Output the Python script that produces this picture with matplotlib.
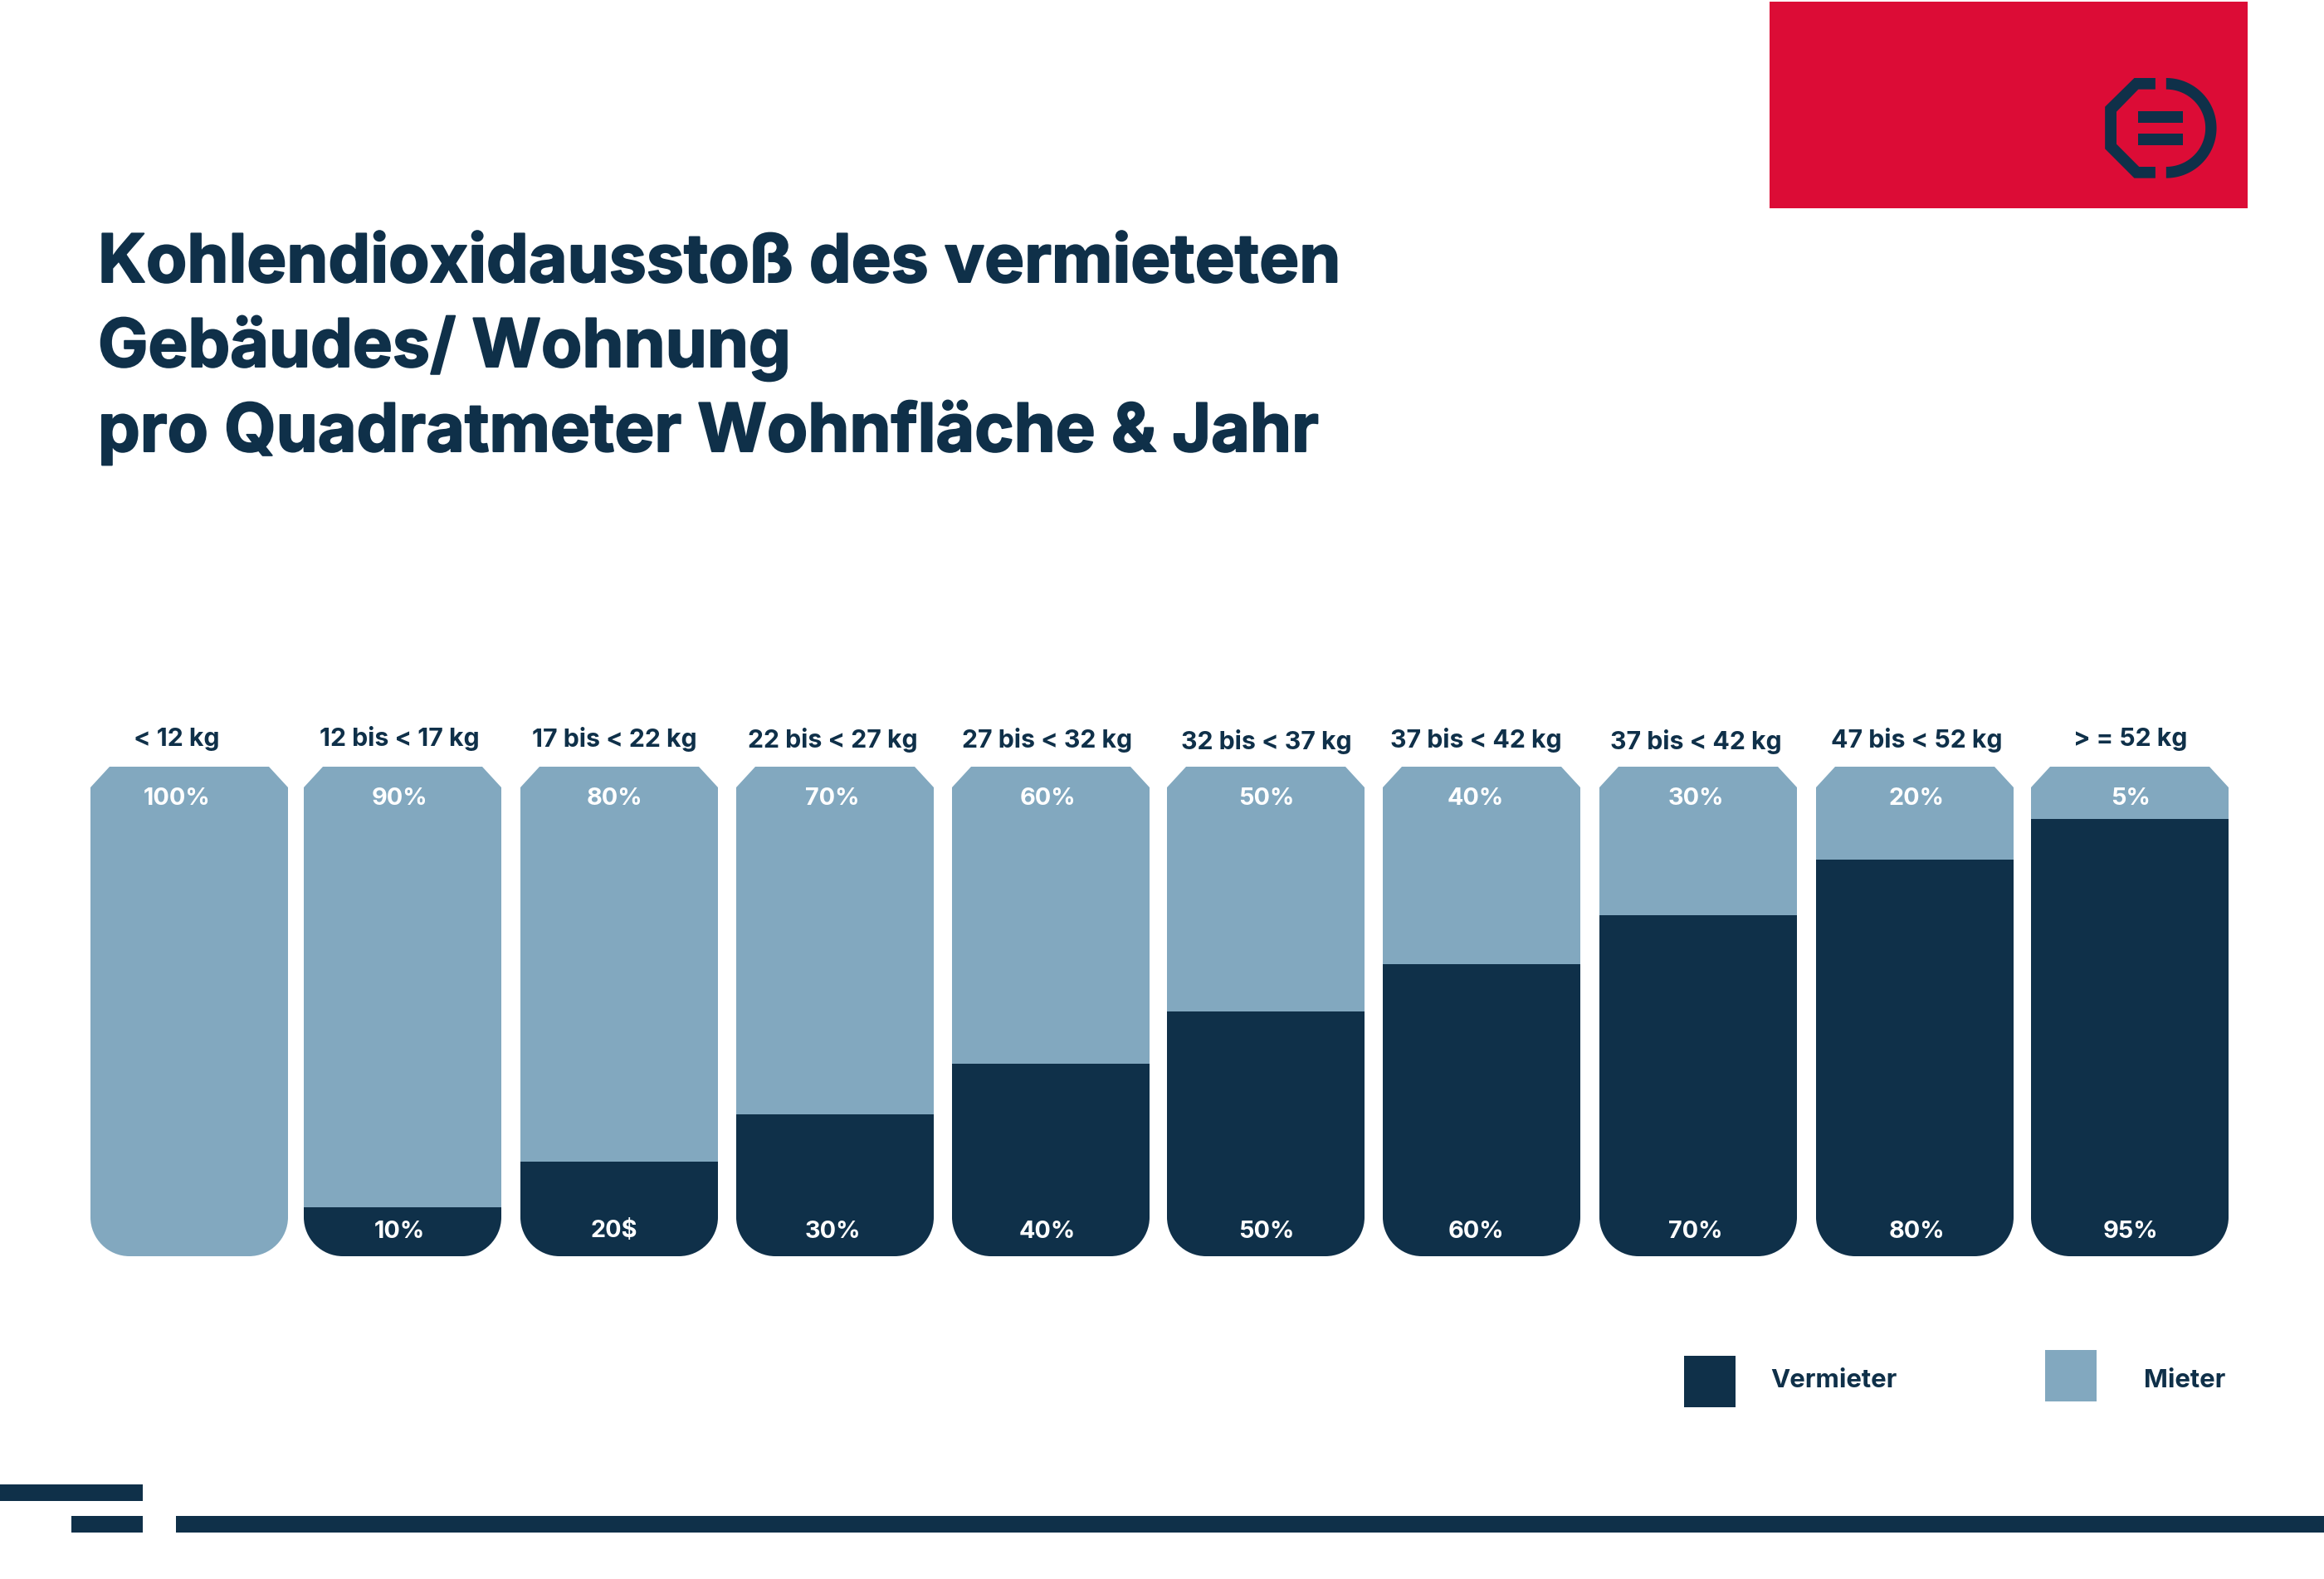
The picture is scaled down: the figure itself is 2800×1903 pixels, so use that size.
import numpy as np
import matplotlib.pyplot as plt
import matplotlib.patheffects as pe
from matplotlib.patches import Rectangle, Polygon
from matplotlib.path import Path

NAVY = "#0F3049"
LIGHT = "#82A8BF"
RED = "#DC0C36"
FONT = "Inter"

# ---- data
categories = ["< 12 kg", "12 bis < 17 kg", "17 bis < 22 kg", "22 bis < 27 kg", "27 bis < 32 kg",
              "32 bis < 37 kg", "37 bis < 42 kg", "37 bis < 42 kg", "47 bis < 52 kg", "> = 52 kg"]
vermieter = [0, 10, 19.4, 29, 39.4, 50, 59.7, 69.7, 81, 89.4]
mieter = [100, 90, 80.6, 71, 60.6, 50, 40.3, 30.3, 19, 10.6]
mieter_labels = ["100%", "90%", "80%", "70%", "60%", "50%", "40%", "30%", "20%", "5%"]
vermieter_labels = ["", "10%", "20$", "30%", "40%", "50%", "60%", "70%", "80%", "95%"]

title_lines = ["Kohlendioxidausstoß des vermieteten", "Gebäudes/ Wohnung",
               "pro Quadratmeter Wohnfläche & Jahr"]

# bars sit slightly unevenly in the original, label centres are hand placed too
bar_centers = [228, 485, 746, 1006, 1266, 1525, 1785, 2046, 2307, 2566]
label_x = [213, 481, 740, 1003, 1262, 1526, 1778, 2043, 2309, 2567]
label_y = [891, 890, 891, 892, 892, 894, 892, 894, 892, 891]
BAR_W = 238

fig = plt.figure(figsize=(14, 9.515), dpi=200, facecolor="white")

# page layer in pixel coordinates
page = fig.add_axes([0, 0, 1, 1])
page.set_xlim(0, 2800)
page.set_ylim(1903, 0)
page.axis("off")

# ---- red header block with logo
page.add_patch(Rectangle((2132, 2), 576, 249, fc=RED, ec="none"))


def logo_xy(pts):
    pts = np.array(pts, dtype=float)
    return np.column_stack([2100 + pts[:, 0] / 2.24, pts[:, 1] / 3])


left_half = [(1113, 282), (1056, 282), (977, 386), (977, 538), (1056, 644), (1113, 644),
             (1113, 603), (1069, 603), (1008, 521), (1008, 404), (1067, 323), (1113, 323)]
page.add_patch(Polygon(logo_xy(left_half), fc=NAVY, ec="none"))

t = np.linspace(-np.pi / 2, np.pi / 2, 80)
outer = np.column_stack([1142 + 136 * np.cos(t), 463 + 181 * np.sin(t)])
inner = np.column_stack([1142 + 106 * np.cos(t), 463 + 140 * np.sin(t)])[::-1]
page.add_patch(Polygon(logo_xy(np.vstack([outer, inner])), fc=NAVY, ec="none"))

for y0, y1 in [(402, 443), (482, 524)]:
    page.add_patch(Polygon(logo_xy([(1066, y0), (1187, y0), (1187, y1), (1066, y1)]), fc=NAVY, ec="none"))

# ---- title, Inter bold is a bit light so thicken it
for line, y in zip(title_lines, [319, 420, 522]):
    page.text(118, y, line, fontsize=29, fontweight="bold", family=FONT, color=NAVY,
              ha="left", va="center",
              path_effects=[pe.withStroke(linewidth=0.7, foreground=NAVY)])

# ---- stacked bars
TOP, BOTTOM = 924, 1514
ax = fig.add_axes([109 / 2800, 1 - BOTTOM / 1903, (2685 - 109) / 2800, (BOTTOM - TOP) / 1903])
ax.set_xlim(109, 2685)
ax.set_ylim(0, 100)
ax.axis("off")
ax.patch.set_alpha(0)

dark = ax.bar(bar_centers, vermieter, width=BAR_W, color=NAVY, linewidth=0)
pale = ax.bar(bar_centers, mieter, width=BAR_W, bottom=vermieter, color=LIGHT, linewidth=0)

# bars have chamfered tops and rounded bottoms
unit_y = 100 / (BOTTOM - TOP)


def bar_outline(cx):
    l, r = cx - BAR_W / 2, cx + BAR_W / 2
    cut_x, cut_y = 23, 25 * unit_y
    rad_x, rad_y = 47, 47 * unit_y
    k = 0.55
    verts = [(l + cut_x, 100), (r - cut_x, 100), (r, 100 - cut_y), (r, rad_y),
             (r, rad_y * (1 - k)), (r - rad_x * (1 - k), 0), (r - rad_x, 0),
             (l + rad_x, 0), (l + rad_x * (1 - k), 0), (l, rad_y * (1 - k)), (l, rad_y),
             (l, 100 - cut_y), (l + cut_x, 100)]
    codes = [Path.MOVETO, Path.LINETO, Path.LINETO, Path.LINETO,
             Path.CURVE4, Path.CURVE4, Path.CURVE4,
             Path.LINETO, Path.CURVE4, Path.CURVE4, Path.CURVE4,
             Path.LINETO, Path.CLOSEPOLY]
    return Path(verts, codes)


for cx, d, p in zip(bar_centers, dark, pale):
    outline = bar_outline(cx)
    d.set_clip_path(outline, ax.transData)
    p.set_clip_path(outline, ax.transData)

# ---- labels
for i, cat in enumerate(categories):
    page.text(label_x[i], label_y[i], cat, fontsize=10.9, fontweight="bold", family=FONT,
              color=NAVY, ha="center", va="center")
    page.text(label_x[i], 962, mieter_labels[i], fontsize=10.4, fontweight="bold", family=FONT,
              color="white", ha="center", va="center", zorder=5)
    if vermieter_labels[i]:
        page.text(label_x[i], 1484, vermieter_labels[i], fontsize=10.4, fontweight="bold", family=FONT,
                  color="white", ha="center", va="center", zorder=5)
page.set_zorder(3)
page.patch.set_alpha(0)

# ---- legend
page.add_patch(Rectangle((2029, 1634), 62, 62, fc=NAVY, ec="none"))
page.add_patch(Rectangle((2464, 1627), 62, 62, fc=LIGHT, ec="none"))
page.text(2133, 1664, "Vermieter", fontsize=11.2, fontweight="bold", family=FONT, color=NAVY,
          ha="left", va="center")
page.text(2583, 1664, "Mieter", fontsize=11.2, fontweight="bold", family=FONT, color=NAVY,
          ha="left", va="center")

# ---- footer rules
page.add_patch(Rectangle((0, 1789), 172, 20, fc=NAVY, ec="none"))
page.add_patch(Rectangle((86, 1827), 86, 20, fc=NAVY, ec="none"))
page.add_patch(Rectangle((212, 1827), 2588, 20, fc=NAVY, ec="none"))

fig.savefig("out.png", dpi=200, facecolor="white")
